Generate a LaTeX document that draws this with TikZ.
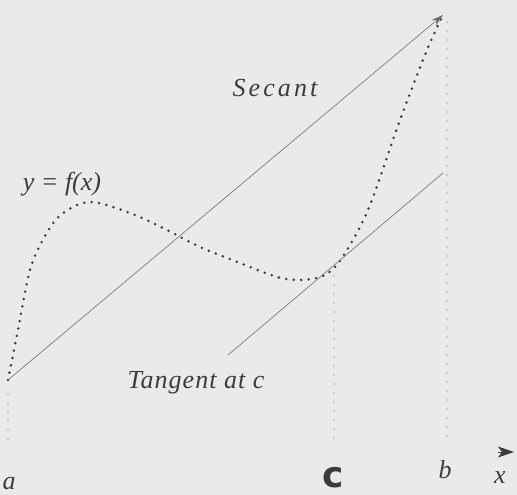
\documentclass[tikz,border=0pt]{standalone}
\usepackage{fontspec}
\setmainfont{Liberation Serif}
\newfontfamily\markfont{DejaVu Sans}
\usetikzlibrary{arrows.meta}
\definecolor{paper}{RGB}{234, 234, 232}
\definecolor{ink}{RGB}{60, 60, 60}
\definecolor{pencil}{RGB}{110, 110, 110}

\begin{document}
\begin{tikzpicture}[
  x=1pt, y=-1pt,
  curve/.style={ink, line width=2.8pt, line cap=round, dash pattern=on 0pt off 7.5pt},
  guide/.style={pencil, line width=1.3pt, line cap=round, dash pattern=on 0pt off 9pt},
  thinline/.style={pencil, line width=0.6pt},
  lbl/.style={ink, inner sep=0pt, font=\itshape\fontsize{26}{28}\selectfont},
]
  % Paper
  \fill[paper] (0,0) rectangle (517,495);
  \useasboundingbox (0,0) rectangle (517,495);

  % Key points
  \coordinate (A) at (8,380);
  \coordinate (B) at (443,15);
  \coordinate (C) at (334,268);
  \coordinate (T1) at (228,355);
  \coordinate (T2) at (443,173);

  % Feet of the ordinates
  \coordinate (Afoot) at (8,440);
  \coordinate (Cfoot) at (334,442);
  \coordinate (Bfoot) at (447,440);
  \coordinate (Btop) at (447,22);

  % Curve y = f(x)
  \draw[curve] plot[smooth, tension=0.55] coordinates {
    (8,380) (18,330) (30,270) (45,236) (62,214) (90,202) (130,213)
    (167,230) (200,247) (240,263) (277,277) (300,280) (320,277)
    (334,268) (350,245) (370,205) (400,120) (427,50) (443,15)};

  % Secant and tangent
  \draw[thinline, -{Stealth[length=12pt, width=7pt]}] (A) -- (B);
  \draw[thinline] (T1) -- (T2);

  % Ordinates
  \draw[guide] (A) ++(0,14) -- (Afoot);
  \draw[guide] (C) ++(0,8) -- (Cfoot);
  \draw[guide] (Btop) -- (Bfoot);

  % x-axis tip
  \coordinate (xtail) at (498,452);
  \coordinate (xhead) at (514,452);
  \draw[ink, line width=1pt, -{Stealth[length=16pt, width=11pt, inset=4pt]}] (xtail) -- (xhead);

  % Labels
  \node[lbl, anchor=base] (secantlbl) at (275,96) {\addfontfeature{LetterSpace=12}Secant};
  \node[lbl, anchor=base] (curvelbl) at (62,190) {y = f(x)};
  \node[lbl, anchor=base] (tanlbl) at (196,388) {\addfontfeature{LetterSpace=4}Tangent at c};
  \node[lbl, anchor=base] (albl) at (9,489) {a};
  \node[ink, inner sep=0pt, anchor=base, font=\markfont\bfseries\fontsize{36}{38}\selectfont] (clbl) at (333,487) {c};
  \node[lbl, anchor=base] (blbl) at (445,478) {b};
  \node[lbl, anchor=base] (xlbl) at (500,483) {x};
\end{tikzpicture}
\end{document}
